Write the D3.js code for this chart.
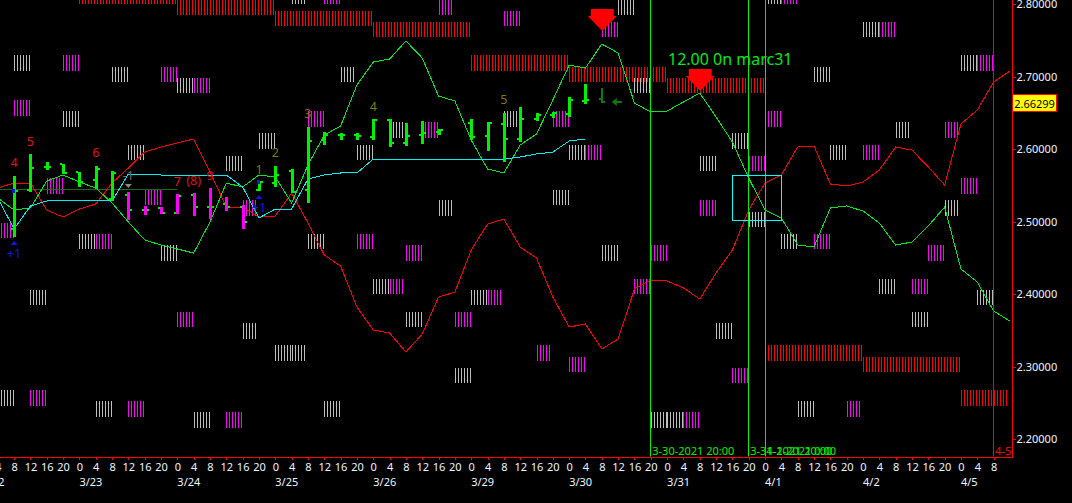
<!DOCTYPE html>
<html>
<head>
<meta charset="utf-8">
<script src="https://cdn.jsdelivr.net/npm/d3@7"></script>
<style>
  html, body { margin: 0; padding: 0; background: #000; overflow: hidden; }
  text { font-family: "Noto Sans", sans-serif; }
  .axis path, .axis line { stroke: #ff0000; shape-rendering: crispEdges; }
  .axis text { fill: #eef6ff; font-size: 11px; }
</style>
</head>
<body>
<div id="container"></div>
<script>
/* CONSTANTS AND GLOBALS */
const width = 1072;
const height = 503;
const plotRight = 1012.5;
const plotBottom = 456.5;
const bandHalf = 0.0107;

/* DATA */
// bar index -1 is the 3/22 04:00 bar, one bar is 4 hours
const hourLabels = [4,8,12,16,20,
  0,4,8,12,16,20, 0,4,8,12,16,20, 0,4,8,12,16,20, 0,4,8,12,16,20, 0,4,8,12,16,20,
  0,4,8,12,16,20, 0,4,8,12,16,20, 0,4,8,12,16,20, 0,4,8,12,16,20, 0,4,8];
const dateLabels = ["3/22","3/23","3/24","3/25","3/26","3/29","3/30","3/31","4/1","4/2","4/5"];
const dateBars = [-2,4,10,16,22,28,34,40,46,52,58];
const priceTicks = [2.2,2.3,2.4,2.5,2.6,2.7,2.8];
const lastPrice = 2.66299;

// lines start at bar -1
const redLine = [2.5462,2.5531,2.5531,2.5158,2.5062,2.5172,2.5241,2.5531,2.5738,2.5958,2.6027,2.6083,2.6138,2.5683,2.5200,2.5200,2.5062,2.5076,2.5393,2.4979,2.4538,2.4386,2.3820,2.3503,2.3462,2.3200,2.3448,2.3958,2.4027,2.4607,2.4965,2.5034,2.4648,2.4496,2.3958,2.3545,2.3586,2.3241,2.3379,2.4069,2.4193,2.4179,2.4083,2.3931,2.4290,2.4607,2.5158,2.5531,2.5641,2.6027,2.6041,2.5517,2.5490,2.5545,2.5710,2.6027,2.5986,2.5752,2.5503,2.6345,2.6538,2.6924,2.7076];
const greenLine = [2.5324,2.5158,2.5186,2.5558,2.5641,2.5545,2.5462,2.5255,2.4993,2.4745,2.4676,2.4621,2.4565,2.4993,2.5531,2.5476,2.5641,2.5614,2.5255,2.5779,2.6193,2.6317,2.6883,2.7200,2.7241,2.7490,2.7255,2.6731,2.6662,2.6124,2.5724,2.5669,2.6055,2.6207,2.6676,2.7158,2.7117,2.7448,2.7324,2.6634,2.6510,2.6524,2.6648,2.6772,2.6441,2.6096,2.5600,2.5158,2.5048,2.4676,2.4648,2.5186,2.5214,2.5145,2.4979,2.4676,2.4717,2.4938,2.5200,2.4345,2.4165,2.3765,2.3627];
const cyanLine = [2.5324,2.4896,2.5214,2.5283,2.5283,2.5283,2.5283,2.5283,2.5655,2.5655,2.5641,2.5641,2.5641,2.5641,2.5641,2.5476,2.5048,2.5172,2.5172,2.5586,2.5641,2.5669,2.5669,2.5862,2.5862,2.5862,2.5862,2.5862,2.5862,2.5862,2.5862,2.5862,2.5890,2.5931,2.5958,2.6110,2.6138];

// price bars
const barIndex = [0,1,2,3,4,5,6,7,8,9,10,11,12,13,14,15,16,17,18,19,20,21,22,23,24,25,26,28,29,30,31,32,33,34,35,36];
const barOpen  = [2.4896,2.5434,2.5752,2.5793,2.5683,2.5572,2.5310,2.5365,2.5158,2.5186,2.5117,2.5365,2.5200,2.5241,2.5200,2.5434,2.5531,2.5696,2.5434,2.6124,2.6193,2.6193,2.6165,2.6400,2.6083,2.6193,2.6234,2.6359,2.6179,2.6345,2.6138,2.6414,2.6469,2.6483,2.6662,2.6690];
const barHigh  = [2.5627,2.5931,2.5821,2.5793,2.5683,2.5765,2.5696,2.5407,2.5214,2.5200,2.5379,2.5393,2.5462,2.5338,2.5227,2.5558,2.5765,2.5724,2.6303,2.6234,2.6221,2.6221,2.6414,2.6414,2.6359,2.6386,2.6276,2.6414,2.6372,2.6496,2.6579,2.6496,2.6510,2.6717,2.6896,2.6841];
const barLow   = [2.4786,2.5407,2.5710,2.5655,2.5476,2.5448,2.5283,2.5020,2.5090,2.5103,2.5103,2.5076,2.5034,2.5145,2.4896,2.5421,2.5476,2.5393,2.5255,2.6055,2.6124,2.6124,2.6124,2.6027,2.6041,2.6069,2.6193,2.6124,2.5972,2.5821,2.6096,2.6386,2.6428,2.6441,2.6621,2.6634];
const barClose = [2.5421,2.5738,2.5752,2.5669,2.5545,2.5724,2.5669,2.5158,2.5158,2.5117,2.5352,2.5200,2.5200,2.5200,2.4993,2.5545,2.5641,2.5407,2.6110,2.6193,2.6193,2.6179,2.6400,2.6083,2.6179,2.6221,2.6262,2.6165,2.6359,2.6138,2.6414,2.6469,2.6496,2.6676,2.6676,2.6648];
const barState = ["up","up","up","up","up","up","up","down","down","down","down","down","down","down","down","up","up","up","up","up","up","up","up","up","up","up","up","up","up","up","up","up","up","up","up","open"];

// striped blocks: [bar, price]
const greyBlocks = [[0,2.7186],[58,2.7186],[6,2.7028],[20,2.7028],[49,2.7028],[10,2.6876],[38,2.6876],[37,2.7952],[17,2.8103],[46,2.8103],[52,2.7648],[3,2.6414],[30,2.6414],[23,2.6262],[54,2.6262],[15,2.6110],[44,2.6110],[7,2.5952],[21,2.5952],[34,2.5952],[50,2.5952],[13,2.5800],[42,2.5800],[33,2.5331],[26,2.5186],[57,2.5186],[45,2.5028],[4,2.4724],[18,2.4724],[47,2.4724],[9,2.4566],[36,2.4566],[22,2.4103],[53,2.4103],[1,2.3952],[28,2.3952],[59,2.3952],[24,2.3648],[55,2.3648],[14,2.3490],[43,2.3490],[16,2.3186],[17,2.3186],[27,2.2876],[-1,2.2566],[5,2.2414],[19,2.2414],[48,2.2414],[11,2.2262],[39,2.2262],[40,2.2262]];
const magentaBlocks = [[19,2.8103],[47,2.8103],[26,2.7952],[30,2.7800],[36,2.7648],[53,2.7648],[3,2.7186],[59,2.7186],[9,2.7028],[11,2.6876],[0,2.6566],[18,2.6414],[33,2.6414],[46,2.6414],[25,2.6262],[57,2.6262],[35,2.5952],[52,2.5952],[45,2.5800],[2,2.5490],[58,2.5490],[8,2.5331],[14,2.5186],[42,2.5186],[-1,2.4876],[5,2.4724],[21,2.4724],[49,2.4724],[24,2.4566],[39,2.4566],[56,2.4566],[23,2.4103],[38,2.4103],[55,2.4103],[29,2.3952],[10,2.3648],[27,2.3648],[32,2.3186],[34,2.3028],[44,2.2876],[1,2.2566],[7,2.2414],[51,2.2414],[13,2.2262],[41,2.2262]];
// red runs: [first bar, last bar, price]
const redRuns = [[4,10,2.8103],[10,16,2.7952],[16,22,2.7800],[22,28,2.7648],[28,34,2.7186],[34,40,2.7028],[40,46,2.6876],[46,52,2.3186],[52,58,2.3028],[58,61,2.2566]];

// notes on the chart
const redNotes = ["4","5","6","7","(8)","9"];
const redNoteBars = [0,1,5,10,11,12];
const redNotePrices = [2.5807,2.6110,2.5945,2.5558,2.5572,2.5641];
const oliveNotes = ["1","2","3","4","5"];
const oliveNoteBars = [15,16,18,22,30];
const oliveNotePrices = [2.5724,2.5945,2.6483,2.6593,2.6676];
const blueNoteBars = [0,15];
const blueNotePrices = [2.4565,2.5200];
const blueArrowPrices = [2.4703,2.5338];
const blueTickPrices = [2.5421,2.5545];

const marketLines = [39,45,46];
const marketLineLabels = ["3-30-2021 20:00","3-31-2021 20:00","4-1-2021 0:00"];
const dropBars = [36,42];
const dropPrices = [2.7627,2.6800];
const boxBars = [44,47];
const boxPrices = [2.5641,2.5020];

/* SCALES */
const x = d3.scaleLinear().domain([0, 60]).range([14.1, 993.6]);
const y = d3.scaleLinear().domain([2.2, 2.8]).range([439, 4]);
const px = i => Math.round(x(i));
const barColor = d3.scaleOrdinal().domain(["up","down","open"]).range(["#00f000","#ff00ff","#0f7a0f"]);

/* HTML ELEMENTS */
const svg = d3.select("#container").append("svg")
  .attr("width", width)
  .attr("height", height)
  .style("display", "block")
  .style("background", "#000");

// Striped blocks
function stripes(from, to, price, color) {
  svg.append("g").selectAll("rect")
    .data(d3.range(px(from), x(to) - 1, 3))
    .join("rect")
    .attr("x", d => d)
    .attr("width", 1)
    .attr("y", y(price + bandHalf))
    .attr("height", y(price - bandHalf) - y(price + bandHalf))
    .attr("fill", color)
    .attr("shape-rendering", "crispEdges");
}
greyBlocks.forEach(d => stripes(d[0], d[0] + 1, d[1], "#bdbdbd"));
magentaBlocks.forEach(d => stripes(d[0], d[0] + 1, d[1], "#ff00ff"));
redRuns.forEach(d => stripes(d[0], d[1], d[2], "#ff0000"));

// Horizontal dark line on the left
svg.append("line")
  .attr("x1", x(-1)).attr("x2", x(10))
  .attr("y1", y(2.5444)).attr("y2", y(2.5444))
  .attr("stroke", "#146b14")
  .attr("shape-rendering", "crispEdges");

// Curves
const curve = d3.line().x((d, i) => x(i - 1)).y(d => y(d));
[[redLine, "#ff0000"], [greenLine, "#00e81a"], [cyanLine, "#00f0f0"]].forEach(c =>
  svg.append("path")
    .attr("d", curve(c[0]))
    .attr("fill", "none")
    .attr("stroke", c[1])
    .attr("stroke-width", 1)
    .attr("shape-rendering", "crispEdges")
);

// Vertical markers
svg.selectAll(".marketline")
  .data(marketLines)
  .join("line")
  .attr("x1", d => Math.floor(x(d)) + 0.5)
  .attr("x2", d => Math.floor(x(d)) + 0.5)
  .attr("y1", 0)
  .attr("y2", plotBottom)
  .attr("stroke", "#00f000");
svg.append("line")
  .attr("x1", Math.floor(x(60)) + 0.5)
  .attr("x2", Math.floor(x(60)) + 0.5)
  .attr("y1", 0)
  .attr("y2", plotBottom)
  .attr("stroke", "#ff0000");
svg.selectAll(".marketlabel")
  .data(marketLines)
  .join("text")
  .attr("x", d => x(d) + 1.5)
  .attr("y", 455)
  .attr("fill", "#00f000")
  .style("font-size", "11px")
  .text((d, i) => marketLineLabels[i]);
svg.append("text")
  .attr("x", x(60) + 1.5)
  .attr("y", 455)
  .attr("fill", "#ff0000")
  .style("font-size", "11px")
  .text("4-5");

// Price bars
barIndex.forEach((b, i) => {
  const color = barColor(barState[i]);
  const w = barState[i] === "open" ? 2 : 3;
  const tick = barState[i] === "open" ? color : "#00f000";
  svg.append("rect")
    .attr("x", px(b) - 1).attr("width", w)
    .attr("y", y(barHigh[i])).attr("height", y(barLow[i]) - y(barHigh[i]))
    .attr("fill", color)
    .attr("shape-rendering", "crispEdges");
  svg.append("rect")
    .attr("x", px(b) - 3).attr("width", 2)
    .attr("y", y(barOpen[i]) - 1).attr("height", 2)
    .attr("fill", tick)
    .attr("shape-rendering", "crispEdges");
  svg.append("rect")
    .attr("x", px(b) - 1 + w).attr("width", 2)
    .attr("y", y(barClose[i]) - 1).attr("height", 2)
    .attr("fill", tick)
    .attr("shape-rendering", "crispEdges");
});

// Text notes
function notes(labels, bars, prices, color, size) {
  svg.append("g").selectAll("text")
    .data(labels)
    .join("text")
    .attr("x", (d, i) => x(bars[i]))
    .attr("y", (d, i) => y(prices[i]))
    .attr("text-anchor", "middle")
    .attr("dominant-baseline", "central")
    .attr("fill", color)
    .style("font-size", size)
    .text(d => d);
}
notes(redNotes, redNoteBars, redNotePrices, "#e01010", "12.5px");
notes(oliveNotes, oliveNoteBars, oliveNotePrices, "#7c7c10", "12.5px");
notes(["+1", "+1"], blueNoteBars, blueNotePrices, "#1414e0", "13px");
notes(["-1"], [7], [2.5628], "#6e6e6e", "12.5px");

// Small triangles, flat like the platform draws them
function smallTriangle(bar, price, dir, color) {
  const cx = x(bar);
  const cy = y(price);
  svg.append("path")
    .attr("d", d3.line()([[cx - 3.5, cy + 2 * dir], [cx + 3.5, cy + 2 * dir], [cx, cy - 2 * dir]]))
    .attr("fill", color);
}
blueNoteBars.forEach((b, i) => {
  smallTriangle(b, blueArrowPrices[i], 1, "#1414e0");
  svg.append("rect")
    .attr("x", px(b) - 2).attr("width", 3)
    .attr("y", y(blueTickPrices[i]) - 2).attr("height", 4)
    .attr("fill", "#1414e0");
});
smallTriangle(7, 2.5490, -1, "#8a8a8a");

// Dark green arrow next to the last bar
svg.append("path")
  .attr("d", d3.line()([[x(36) + 10, y(2.6648)], [x(36) + 15, y(2.6648) - 4], [x(36) + 15, y(2.6648) - 1], [x(36) + 20, y(2.6648) - 1], [x(36) + 20, y(2.6648) + 1], [x(36) + 15, y(2.6648) + 1], [x(36) + 15, y(2.6648) + 4]]))
  .attr("fill", "#0f7a0f");

// Big red arrows
dropBars.forEach((b, i) => {
  const cx = x(b) + 0.5;
  const tip = y(dropPrices[i]);
  svg.append("path")
    .attr("d", d3.line()([[cx - 11.5, tip - 22], [cx + 11.5, tip - 22], [cx + 11.5, tip - 15], [cx + 14.5, tip - 15], [cx, tip], [cx - 14.5, tip - 15], [cx - 11.5, tip - 15]]))
    .attr("fill", "#ff0000");
});

// Cyan box
svg.append("rect")
  .attr("x", Math.floor(x(boxBars[0])) + 0.5)
  .attr("y", Math.floor(y(boxPrices[0])) + 0.5)
  .attr("width", Math.round(x(boxBars[1]) - x(boxBars[0])))
  .attr("height", Math.round(y(boxPrices[1]) - y(boxPrices[0])))
  .attr("fill", "none")
  .attr("stroke", "#00ffff");

// Title note
svg.append("text")
  .attr("x", 668)
  .attr("y", 65)
  .attr("fill", "#00e81a")
  .style("font-size", "16px")
  .text("12.00 0n marc31");

/* AXES */
const xAxis = d3.axisBottom(x)
  .tickValues(d3.range(-1, 61))
  .tickFormat((d, i) => hourLabels[i])
  .tickSize(3)
  .tickPadding(4);
const yAxis = d3.axisRight(y)
  .tickValues(priceTicks)
  .tickFormat(d3.format(".5f"))
  .tickSize(3)
  .tickPadding(1);

const gx = svg.append("g")
  .attr("class", "axis")
  .attr("transform", `translate(0, ${plotBottom})`)
  .call(xAxis);
gx.select(".domain").attr("d", `M0,0.5H${plotRight}`);

const gy = svg.append("g")
  .attr("class", "axis")
  .attr("transform", `translate(${plotRight}, 0)`)
  .call(yAxis);
gy.select(".domain").attr("d", `M0,0V${plotBottom}`);

svg.selectAll(".datelabel")
  .data(dateLabels)
  .join("text")
  .attr("x", (d, i) => x(dateBars[i]))
  .attr("y", 486)
  .attr("fill", "#eef6ff")
  .style("font-size", "11px")
  .text(d => d);

// Last price tag
const tag = svg.append("g");
tag.append("rect")
  .attr("x", plotRight)
  .attr("y", Math.round(y(lastPrice)) - 8.5)
  .attr("width", 44)
  .attr("height", 17)
  .attr("fill", "#ffff00")
  .attr("stroke", "#ff0000");
tag.append("text")
  .attr("x", plotRight + 22)
  .attr("y", y(lastPrice))
  .attr("text-anchor", "middle")
  .attr("dominant-baseline", "central")
  .attr("fill", "#000")
  .style("font-size", "11px")
  .text(d3.format(".5f")(lastPrice));
</script>
</body>
</html>
